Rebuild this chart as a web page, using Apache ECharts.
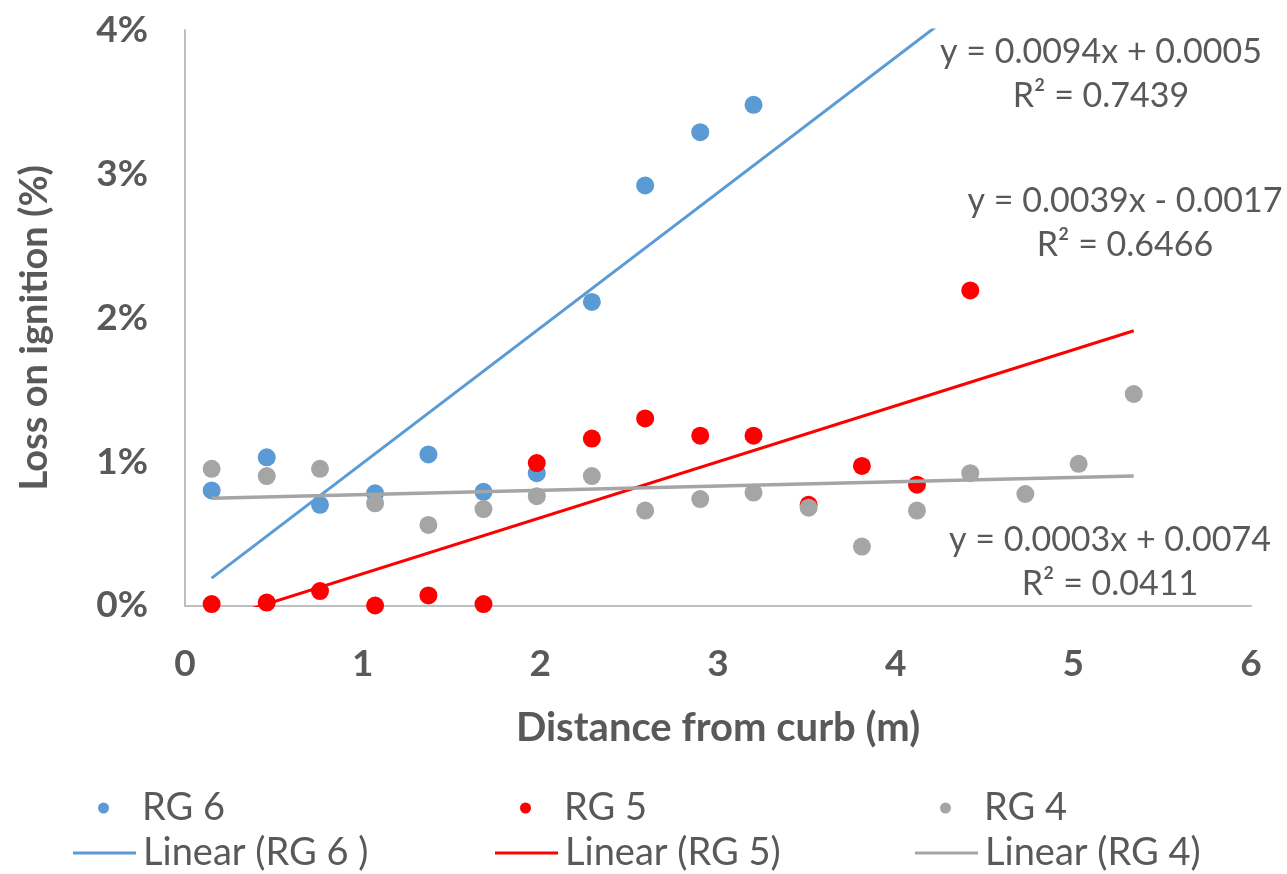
<!DOCTYPE html>
<html>
<head>
<meta charset="utf-8">
<script src="https://cdn.jsdelivr.net/npm/echarts@6/dist/echarts.min.js"></script>
<style>
  html, body { margin: 0; padding: 0; background: #fff; }
  #chart { width: 1287px; height: 874px; }
</style>
</head>
<body>
<div id="chart"></div>
<script>
// Distance from curb (m) of each sampling position
const distance = [0.15, 0.46, 0.76, 1.07, 1.37, 1.68, 1.98, 2.29, 2.59, 2.90, 3.20, 3.51, 3.81, 4.12, 4.42, 4.73, 5.03, 5.34];
// Loss on ignition (%) per road group
const rg6 = [0.80, 1.03, 0.70, 0.78, 1.05, 0.79, 0.92, 2.11, 2.92, 3.29, 3.48];
const rg5 = [0.01, 0.02, 0.10, 0.00, 0.07, 0.01, 0.99, 1.16, 1.30, 1.18, 1.18, 0.70, 0.97, 0.84, 2.19];
const rg4 = [0.95, 0.90, 0.95, 0.71, 0.56, 0.67, 0.76, 0.90, 0.66, 0.74, 0.785, 0.68, 0.41, 0.66, 0.92, 0.775, 0.985, 1.47];
// Linear trendline end points (x in m, y in %)
const trendX = [0.15, 5.34];
const trendRG6 = [0.19, 5.07];
const trendRG5 = [-0.11, 1.91];
const trendRG4 = [0.745, 0.90];
// Trendline equations as printed
const eqRG6 = ['y = 0.0094x + 0.0005', 'R² = 0.7439'];
const eqRG5 = ['y = 0.0039x - 0.0017', 'R² = 0.6466'];
const eqRG4 = ['y = 0.0003x + 0.0074', 'R² = 0.0411'];
// Axis ticks
const xTicks = [0, 1, 2, 3, 4, 5, 6];
const yTicks = [0, 1, 2, 3, 4];
// Legend names
const scatterNames = ['RG 6', 'RG 5', 'RG 4'];
const lineNames = ['Linear (RG 6 )', 'Linear (RG 5)', 'Linear (RG 4)'];

const BLUE = '#5B9BD5', RED = '#FF0000', GRAY = '#A5A5A5', TXT = '#595959';
const FONT = 'Lato';

function pts(vals) { return vals.map((v, i) => [distance[i], v]); }
function line(vals) { return trendX.map((x, i) => [x, vals[i]]); }

const chart = echarts.init(document.getElementById('chart'), null, { renderer: 'canvas' });

function eqText(lines, cx, cy) {
  return lines.map((t, i) => ({
    type: 'text',
    x: cx, y: cy + i * 44,
    style: {
      text: t, fill: TXT, fontSize: 34, fontFamily: FONT,
      align: 'center', verticalAlign: 'middle',
      textAlign: 'center', textVerticalAlign: 'middle'
    },
    z: 10
  }));
}

const colLeft = [73, 495, 915];
function legendItem(left, top, name, icon, h) {
  return {
    orient: 'horizontal', left: left, top: top, padding: 0,
    itemWidth: 63, itemHeight: h, itemGap: 0,
    icon: icon,
    textStyle: { color: TXT, fontSize: 38, fontFamily: FONT, padding: [0, 0, 0, 2] },
    data: [name]
  };
}
const legends = [];
scatterNames.forEach((n, i) => legends.push(legendItem(colLeft[i] + 25, 789, n, 'circle', 11)));
lineNames.forEach((n, i) => legends.push(legendItem(colLeft[i], 834, n, 'rect', 3)));

const option = {
  animation: false,
  backgroundColor: '#fff',
  grid: { left: 185, right: 36, top: 30, bottom: 268.5, containLabel: false },
  xAxis: {
    type: 'value', min: xTicks[0], max: xTicks[xTicks.length - 1], interval: 1,
    name: 'Distance from curb (m)', nameLocation: 'middle', nameGap: 103,
    nameTextStyle: { color: TXT, fontSize: 40, fontWeight: 'bold', fontFamily: FONT },
    axisLine: { show: true, lineStyle: { color: '#BFBFBF', width: 2 } },
    axisTick: { show: false },
    splitLine: { show: false },
    axisLabel: { color: TXT, fontSize: 37, fontWeight: 'bold', fontFamily: FONT, margin: 40 }
  },
  yAxis: {
    type: 'value', min: yTicks[0], max: yTicks[yTicks.length - 1], interval: 1,
    name: 'Loss on ignition (%)', nameLocation: 'middle', nameGap: 131, nameRotate: 90,
    nameTextStyle: { color: TXT, fontSize: 38, fontWeight: 'bold', fontFamily: FONT, padding: [0, 20, 0, 0] },
    axisLine: { show: true, lineStyle: { color: '#BFBFBF', width: 2 } },
    axisTick: { show: false },
    splitLine: { show: false },
    axisLabel: { color: TXT, fontSize: 37, fontWeight: 'bold', fontFamily: FONT, margin: 37,
      formatter: v => v + '%' }
  },
  legend: legends,
  series: [
    { name: scatterNames[0], type: 'scatter', data: pts(rg6), symbolSize: 18, itemStyle: { color: BLUE, opacity: 1 } },
    { name: scatterNames[1], type: 'scatter', data: pts(rg5), symbolSize: 18, itemStyle: { color: RED, opacity: 1 } },
    { name: scatterNames[2], type: 'scatter', data: pts(rg4), symbolSize: 18, itemStyle: { color: GRAY, opacity: 1 } },
    { name: lineNames[0], type: 'line', data: line(trendRG6), showSymbol: false, symbol: 'none', clip: true,
      lineStyle: { color: BLUE, width: 3 }, itemStyle: { color: BLUE } },
    { name: lineNames[1], type: 'line', data: line(trendRG5), showSymbol: false, symbol: 'none', clip: true,
      lineStyle: { color: RED, width: 3 }, itemStyle: { color: RED } },
    { name: lineNames[2], type: 'line', data: line(trendRG4), showSymbol: false, symbol: 'none', clip: true,
      lineStyle: { color: GRAY, width: 3.5 }, itemStyle: { color: GRAY } }
  ],
  graphic: [].concat(
    eqText(eqRG6, 1101, 52),
    eqText(eqRG5, 1125, 201),
    eqText(eqRG4, 1110, 540)
  )
};
chart.setOption(option);
</script>
</body>
</html>
